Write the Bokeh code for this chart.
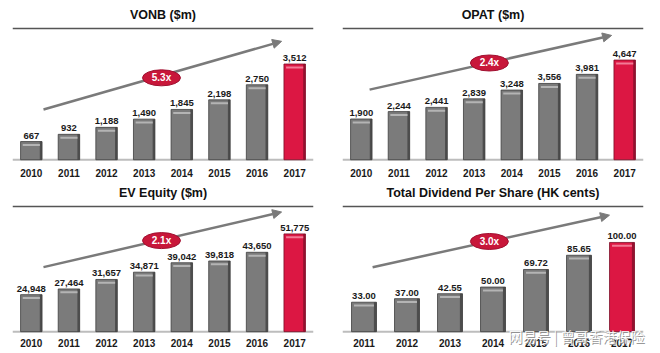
from bokeh.plotting import figure
from bokeh.layouts import column, row
from bokeh.models import Span, Arrow, NormalHead, Range1d, ColumnDataSource
from bokeh.embed import file_html
from bokeh.resources import INLINE
from bokeh.core.properties import value

# ---- data ----
years_a = ["2010", "2011", "2012", "2013", "2014", "2015", "2016", "2017"]
years_d = ["2011", "2012", "2013", "2014", "2015", "2016", "2017"]
vonb = [667, 932, 1188, 1490, 1845, 2198, 2750, 3512]
opat = [1900, 2244, 2441, 2839, 3248, 3556, 3981, 4647]
ev_equity = [24948, 27464, 31657, 34871, 39042, 39818, 43650, 51775]
dps = [33.00, 37.00, 42.55, 50.00, 69.72, 85.65, 100.00]
titles = ["VONB ($m)", "OPAT ($m)", "EV Equity ($m)", "Total Dividend Per Share (HK cents)"]
multiples = ["5.3x", "2.4x", "2.1x", "3.0x"]
watermark = "网易号 | 曾哥香港保险"

FONT = "Liberation Sans"
GRAY, GRAY_EDGE, GRAY_HI = "#7b7b7b", "#3e3e3e", "#b4b4b4"
RED, RED_EDGE, RED_HI = "#dc1743", "#7e0f28", "#f27a95"
PILL = "#c8173a"
M = 2  # px of frame above the title rule


def panel(title, years, vals, labels, mult, y_base, upp, h, top_px, base_px, lab_gap,
          arrow, pill, bar_w=0.57):
    n = len(years)
    H = base_px - top_px
    y1 = y_base + (H + M) * upp
    y0 = y_base - (h - base_px) * upp
    p = figure(x_range=years, y_range=Range1d(y0, y1), width=330, height=h,
               output_backend="svg", toolbar_location=None, y_axis_location=None,
               x_axis_location=None,
               min_border_left=12, min_border_right=17, min_border_top=top_px - M,
               min_border_bottom=0, background_fill_color="white",
               border_fill_color="white", outline_line_color=None)
    p.extra_y_ranges = {"f": Range1d(-(h - base_px) / H, 1 + M / H)}
    p.xgrid.visible = False
    p.ygrid.visible = False
    # title & rules
    p.title.text = title
    p.title.align = "center"
    p.title.text_font = FONT
    p.title.text_font_size = "12.5px"
    p.title.text_font_style = "bold"
    p.title.text_color = "#111111"
    p.add_layout(Span(location=y_base + H * upp, dimension="width",
                      line_color="#555555", line_width=1.5))
    p.add_layout(Span(location=y_base, dimension="width",
                      line_color="#bdbdbd", line_width=2, level="underlay"))
    # bars
    colors = [GRAY] * (n - 1) + [RED]
    edges = [GRAY_EDGE] * (n - 1) + [RED_EDGE]
    his = [GRAY_HI] * (n - 1) + [RED_HI]
    xs_shadow = [i + 0.5 + bar_w / 2 - 0.03 for i in range(n)]
    src = ColumnDataSource(dict(x=years, top=vals, lab=labels, c=colors, e=edges, hi=his,
                                xs=xs_shadow, hl=[v - 3.5 * upp for v in vals]))
    p.vbar(x="x", top="top", bottom=y_base, width=bar_w, source=src,
           fill_color="c", line_color="e", line_width=0.8)
    p.vbar(x="xs", top="top", bottom=y_base, width=0.06, source=src,
           fill_color="e", line_color=None, fill_alpha=0.75)
    p.rect(x="x", y="hl", width=bar_w * 0.8, height=2, height_units="screen", source=src,
           fill_color="hi", line_color=None)
    p.text(x="x", y="top", text="lab", source=src, text_align="center",
           text_baseline="bottom", y_offset=-3, text_font=value(FONT),
           text_font_size="9.5px", text_font_style="bold", text_color="#1a1a1a")
    # year labels
    p.text(x="x", y=y_base, text="x", source=src, text_align="center",
           text_baseline="middle", y_offset=lab_gap, text_font=value(FONT),
           text_font_size="10px", text_font_style="bold", text_color="#1a1a1a")
    # growth arrow (x in synthetic categorical units, y in frame fraction)
    p.add_layout(Arrow(x_start=arrow[0] * n, y_start=arrow[1], x_end=arrow[2] * n, y_end=arrow[3],
                       y_range_name="f", line_color="#7a7a7a", line_width=2.5,
                       end=NormalHead(size=9, fill_color="#7a7a7a", line_color="#7a7a7a")))
    r1 = p.ellipse(x=[pill[0] * n], y=[pill[1]], width=38, height=16, width_units="screen",
                   height_units="screen", y_range_name="f",
                   fill_color=PILL, line_color="#a01030")
    r2 = p.text(x=[pill[0] * n], y=[pill[1]], text=[mult], y_range_name="f",
                text_align="center", text_baseline="middle", text_font=value(FONT),
                text_font_size="10px", text_font_style="bold", text_color="white")
    r1.level = "overlay"
    r2.level = "overlay"
    return p


p1 = panel(titles[0], years_a, vonb, [f"{v:,}" for v in vonb], multiples[0],
           0, 3512 / 97, 178, 26, 159, 13, (0.103, 0.383, 0.894, 0.902), (0.495, 0.624))
p2 = panel(titles[1], years_a, opat, [f"{v:,}" for v in opat], multiples[1],
           0, 4647 / 101, 178, 26, 159, 13, (0.09, 0.534, 0.894, 0.947), (0.488, 0.737))
p3 = panel(titles[2], years_a, ev_equity, [f"{v:,}" for v in ev_equity], multiples[2],
           8600, 1 / 0.002386, 175, 20, 152, 11, (0.103, 0.515, 0.894, 0.955), (0.495, 0.727))
p4 = panel(titles[3], years_d, dps, [f"{v:.2f}" for v in dps], multiples[3],
           0, 1 / 0.94, 175, 20, 152, 11, (0.10, 0.515, 0.887, 0.93), (0.488, 0.72), 0.58)

for dx, dy, col in [(1, 1, "#8a8a8a"), (0, 0, "white")]:
    r = p4.text(x=[3.86], y=[-0.038], text=[watermark], y_range_name="f",
                x_offset=dx, y_offset=dy, text_baseline="middle", text_align="left",
                text_font=value("Noto Sans CJK SC"), text_font_size="14px",
                text_color=col, text_alpha=0.9)
    r.level = "overlay"

layout = column(row(p1, p2), row(p3, p4))
open("out.html", "w").write(file_html(layout, INLINE))
